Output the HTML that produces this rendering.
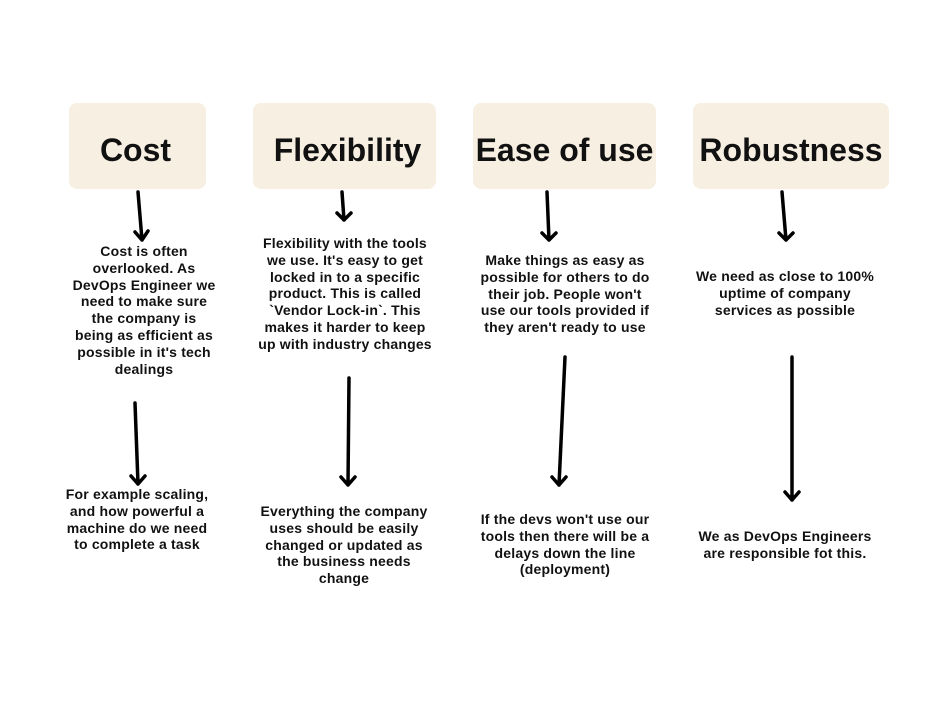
<!DOCTYPE html>
<html><head><meta charset="utf-8"><style>
body{margin:0;width:949px;height:713px;background:#fff;position:relative;overflow:hidden;font-family:"Liberation Sans",sans-serif;color:#111;}
.box{position:absolute;background:#f7f0e2;border-radius:8px;top:103px;height:86px;display:flex;align-items:center;justify-content:center;font-weight:bold;font-size:32px;padding-top:8px;box-sizing:border-box;}
.t{position:absolute;width:240px;text-align:center;font-weight:bold;font-size:14px;letter-spacing:0.2px;line-height:16.8px;white-space:nowrap;}
svg{position:absolute;left:0;top:0;}
</style></head><body>
<div class="box" style="left:69px;width:137px;padding-right:4px">Cost</div>
<div class="box" style="left:253px;width:183px;padding-left:6px">Flexibility</div>
<div class="box" style="left:473px;width:183px">Ease of use</div>
<div class="box" style="left:693px;width:196px">Robustness</div>
<svg width="949" height="713" fill="none" stroke="#000" stroke-width="3.5" stroke-linecap="round" stroke-linejoin="round">
<path d="M138 192L142 240M135 232L142 240L148 231"/>
<path d="M135 403L138 484M131 476L138 484L145 476"/>
<path d="M342 192L344 220M337 213L344 220L351 213"/>
<path d="M349 378L348 485M341 477L348 485L355 477"/>
<path d="M547 192L549 240M542 233L549 240L556 233"/>
<path d="M565 357L559 485M552 477L559 485L566 477"/>
<path d="M782 192L786 240M779 233L786 240L793 233"/>
<path d="M792 357L792 500M785 492L792 500L799 492"/>
</svg>
<div class="t" style="left:24px;top:243px">Cost is often<br>overlooked. As<br>DevOps Engineer we<br>need to make sure<br>the company is<br>being as efficient as<br>possible in it's tech<br>dealings</div>
<div class="t" style="left:225px;top:235px">Flexibility with the tools<br>we use. It's easy to get<br>locked in to a specific<br>product. This is called<br>`Vendor Lock-in`. This<br>makes it harder to keep<br>up with industry changes</div>
<div class="t" style="left:445px;top:252px">Make things as easy as<br>possible for others to do<br>their job. People won't<br>use our tools provided if<br>they aren't ready to use</div>
<div class="t" style="left:665px;top:268px">We need as close to 100%<br>uptime of company<br>services as possible</div>
<div class="t" style="left:17px;top:486px">For example scaling,<br>and how powerful a<br>machine do we need<br>to complete a task</div>
<div class="t" style="left:224px;top:503px">Everything the company<br>uses should be easily<br>changed or updated as<br>the business needs<br>change</div>
<div class="t" style="left:445px;top:511px">If the devs won't use our<br>tools then there will be a<br>delays down the line<br>(deployment)</div>
<div class="t" style="left:665px;top:528px">We as DevOps Engineers<br>are responsible fot this.</div>
</body></html>
